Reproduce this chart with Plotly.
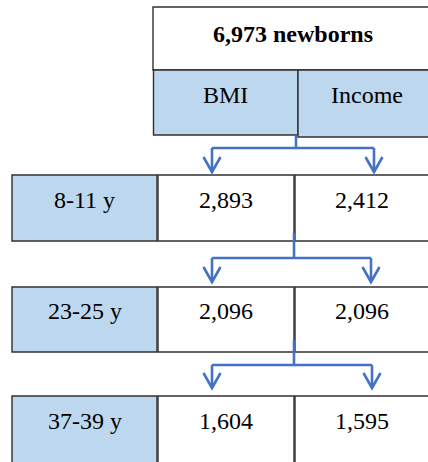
import plotly.graph_objects as go

# ---- data ----
top_n = 6973
top_suffix = "newborns"
measures = ["BMI", "Income"]
ages = ["8-11 y", "23-25 y", "37-39 y"]
bmi_n = [2893, 2096, 1604]
income_n = [2412, 2096, 1595]

# ---- styles / layout geometry ----
W, H = 428, 462
BLUE_FILL = "#BDD7EE"
ARROW = "#4472C4"
BORDER = "#303030"
FONT = "Liberation Serif"
FS = 24

fig = go.Figure()
shapes = []
annos = []

def box(x0, y0, x1, y1, fill):
    shapes.append(dict(type="rect", xref="x", yref="y", x0=x0, y0=y0, x1=x1, y1=y1,
                       fillcolor=fill, line=dict(color=BORDER, width=1.4), layer="below"))

def text(x, y, s, bold=False):
    annos.append(dict(x=x, y=y, xref="x", yref="y", text=(f"<b>{s}</b>" if bold else s),
                      showarrow=False, xanchor="center", yanchor="middle",
                      font=dict(family=FONT, size=FS, color="black")))

def connector(xs, ys, y_h, xl, xr, ya):
    shapes.append(dict(type="line", xref="x", yref="y", x0=xs, y0=ys, x1=xs, y1=y_h,
                       line=dict(color=ARROW, width=2.6)))
    shapes.append(dict(type="line", xref="x", yref="y", x0=xl, y0=y_h, x1=xr, y1=y_h,
                       line=dict(color=ARROW, width=2.6)))
    for xa in (xl, xr):
        shapes.append(dict(type="line", xref="x", yref="y", x0=xa, y0=y_h, x1=xa, y1=ya,
                           line=dict(color=ARROW, width=2.6)))
        shapes.append(dict(type="path", xref="x", yref="y",
                           path=f"M {xa-8.5},{ya-15} L {xa},{ya} L {xa+8.5},{ya-15}",
                           line=dict(color=ARROW, width=2.6)))

# top header
box(153, 7, 440, 70, "white")
text(293, 33.5, f"{top_n:,} {top_suffix}", bold=True)
# measures
box(153.5, 70, 298, 135, BLUE_FILL)
box(298, 70, 440, 137, BLUE_FILL)
text(225.5, 95, measures[0])
text(366.5, 95, measures[1])

rows = [(175, 241, 200), (287, 352, 310.5), (396, 470, 421)]
for i, (y0, y1, ty) in enumerate(rows):
    box(12, y0, 157, y1, BLUE_FILL)
    box(158, y0, 294, y1, "white")
    box(295, y0, 432, y1, "white")
    text(84.5, ty, ages[i])
    text(226, ty, f"{bmi_n[i]:,}")
    text(361.5, ty, f"{income_n[i]:,}")

connector(296, 135, 148, 212, 374, 172)
connector(294, 233, 258, 212, 371, 282)
connector(294, 340, 365, 212, 372, 388)

fig.update_layout(
    width=W, height=H, margin=dict(l=0, r=0, t=0, b=0),
    paper_bgcolor="white", plot_bgcolor="white",
    xaxis=dict(range=[0, W], visible=False, fixedrange=True),
    yaxis=dict(range=[H, 0], visible=False, fixedrange=True),
    shapes=shapes, annotations=annos, showlegend=False,
)
fig.write_html("out.html", config={"displayModeBar": False},
               post_script="document.body.style.margin='0';document.body.style.overflow='hidden';")
